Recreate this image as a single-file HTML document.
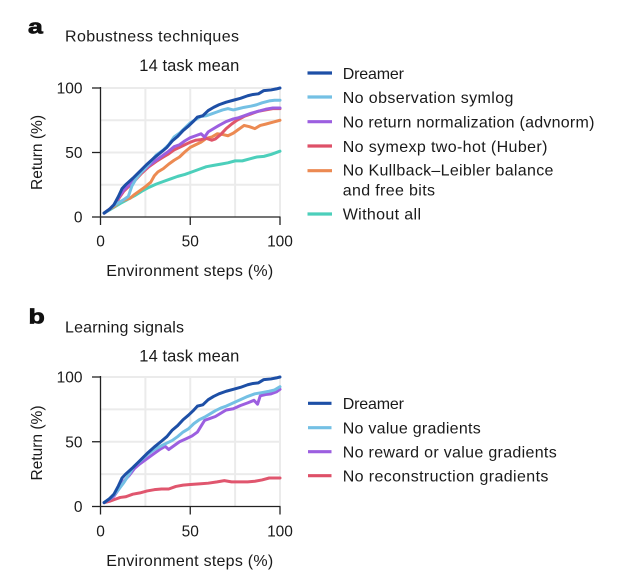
<!DOCTYPE html>
<html><head><meta charset="utf-8"><style>
html,body{margin:0;padding:0;background:#fff;}
svg{display:block;}
text{font-family:"Liberation Sans",Arial,sans-serif;fill:#1a1a1a;}
.g{stroke:#ebebeb;stroke-width:2;fill:none;}
.ax{stroke:#222;stroke-width:1.3;fill:none;}
.s{fill:none;stroke-width:3;stroke-linejoin:round;stroke-linecap:round;vector-effect:non-scaling-stroke;}
.pl{font-weight:bold;fill:#111;stroke:#111;stroke-width:0.7;}
</style></head><body>
<svg width="621" height="581" viewBox="0 0 621 581" xmlns="http://www.w3.org/2000/svg">
<rect width="621" height="581" fill="#fff"/>

<!-- ===== Panel a ===== -->
<text class="pl" transform="translate(28,33.3) scale(1.3,1)" font-size="20.5">a</text>
<text x="65" y="41.7" font-size="16" textLength="174">Robustness techniques</text>
<text x="139.3" y="71" font-size="16.5" textLength="100">14 task mean</text>

<g>
<line class="g" x1="145.4" y1="88" x2="145.4" y2="217"/>
<line class="g" x1="190.25" y1="88" x2="190.25" y2="217"/>
<line class="g" x1="235.1" y1="88" x2="235.1" y2="217"/>
<line class="g" x1="280" y1="88" x2="280" y2="217"/>
<line class="g" x1="100.5" y1="184.75" x2="280" y2="184.75"/>
<line class="g" x1="100.5" y1="152.5" x2="280" y2="152.5"/>
<line class="g" x1="100.5" y1="120.25" x2="280" y2="120.25"/>
<line class="g" x1="100.5" y1="88" x2="280" y2="88"/>
</g>

<g transform="translate(100.5,217) scale(1.795,-1.29)">
<polyline class="s" stroke="#4ccfbb" points="2,3 5,5.5 8,8 11,10.5 15,13.5 19,16.5 23,20 27,23 31,25.5 35,27.5 39,29.5 43,31.5 47,33 51,35 55,37 59,39 63,40 67,41 71,42 75,43.5 79,43.5 83,45 87,46.5 91,47 95,48.5 100,51"/>
<polyline class="s" stroke="#ec8a52" points="2,3 5,6 8,8.5 11,12 14,13.5 16.5,14.5 19,17.5 22,20.5 25,23.5 28,27 30,32 32,35 35,37.5 38,41 41,44 44,46.5 47,50.5 50,54 53,56 56,58 59,61 62,62 65,64.5 68,64 71,63 74,65 77,68 80,71 83,70 86,68.5 89,71 92,72 96,73.5 100,75"/>
<polyline class="s" stroke="#e0566a" points="2,3 5,6 7.5,9.5 10,14 13,20 16,24 19,28 23,34 27,39 31,43 35,46.5 38,49 41,52 44,54 47,56 50,58 53,59.5 56,60 59,61 62,59.5 64,60.5 67,64 70,68.5 73,72 76,75 80,78 84,80 88,82 92,83 96,84 100,84"/>
<polyline class="s" stroke="#9c5fe0" points="2,3 5,6 7.5,9.5 10,15 13,21 16,25 19,29 23,35 27,40 31,44 35,48 38,51 41,54.5 44,56 47,59 50,61.5 53,63 56,64.5 58,62 60,66 63,68.5 66,71 70,74 74,76 77,77 80,78.5 84,80.5 88,82 92,83.5 96,84.5 100,84.5"/>
<polyline class="s" stroke="#74c0e4" points="2,3 5,6 7.5,9 10,11 13,13.5 15.5,16 17.5,24 20,30 23,35 27,41 31,48 35,52 38,56 41,62 44,65 47,69 50,73 53,75.5 56,78 59,78.5 62,80 65,81.5 68,83 71,84 74,83 77,84 80,85 84,86 87,87 90,88.5 94,90 97,90.5 100,90.5"/>
<polyline class="s" stroke="#1d4fa6" points="2,3 5,6 7.5,9.5 10,16 12,22 14,25 18,30 22,35.5 26,41 30,46 34,50.5 37,54 40,59 43,62.5 46,67 49,70.5 52,74.5 54,77.5 57,78.5 60,82.5 63,85 66,87 70,89 74,90.5 78,92 82,94 85,95 88,95.5 91,98 95,98.5 98,99.3 100,100"/>
</g>

<line class="ax" x1="100.5" y1="87" x2="100.5" y2="217"/>
<line class="ax" x1="100" y1="217" x2="280.5" y2="217"/>
<line class="ax" x1="92" y1="88" x2="100.5" y2="88"/>
<line class="ax" x1="92" y1="152.5" x2="100.5" y2="152.5"/>
<line class="ax" x1="92" y1="217" x2="100.5" y2="217"/>
<line class="ax" x1="100.5" y1="217" x2="100.5" y2="225"/>
<line class="ax" x1="190.25" y1="217" x2="190.25" y2="225"/>
<line class="ax" x1="280" y1="217" x2="280" y2="225"/>

<g font-size="15.5" text-anchor="end">
<text x="82.5" y="93.5">100</text>
<text x="82.5" y="158">50</text>
<text x="82.5" y="222.5">0</text>
</g>
<g font-size="15.5" text-anchor="middle">
<text x="100.5" y="246.5">0</text>
<text x="190.25" y="246.5">50</text>
<text x="280" y="246.5">100</text>
</g>
<text x="189.7" y="276" font-size="16" text-anchor="middle" textLength="167">Environment steps (%)</text>
<text transform="translate(42,152.5) rotate(-90)" font-size="15.5" text-anchor="middle" textLength="75">Return (%)</text>

<!-- legend a -->
<g stroke-width="3.2" stroke-linecap="butt">
<line x1="307.5" y1="73" x2="332" y2="73" stroke="#1d4fa6"/>
<line x1="307.5" y1="97" x2="332" y2="97" stroke="#74c0e4"/>
<line x1="307.5" y1="121.7" x2="332" y2="121.7" stroke="#9c5fe0"/>
<line x1="307.5" y1="146" x2="332" y2="146" stroke="#de5068"/>
<line x1="307.5" y1="170.7" x2="332" y2="170.7" stroke="#ec8a52"/>
<line x1="307.5" y1="214" x2="332" y2="214" stroke="#4ccfbb"/>
</g>
<g font-size="16">
<text x="342.7" y="79" textLength="61.3">Dreamer</text>
<text x="342.7" y="103.2" textLength="170.7">No observation symlog</text>
<text x="342.7" y="127.7" textLength="251.7">No return normalization (advnorm)</text>
<text x="342.7" y="152" textLength="204.7">No symexp two-hot (Huber)</text>
<text x="342.7" y="175.7" textLength="210.7">No Kullback–Leibler balance</text>
<text x="342.7" y="195.5" textLength="92.3">and free bits</text>
<text x="342.7" y="219.5" textLength="78.3">Without all</text>
</g>

<!-- ===== Panel b ===== -->
<text class="pl" transform="translate(28.5,323.3) scale(1.3,1)" font-size="20.5">b</text>
<text x="65" y="332.7" font-size="16" textLength="119">Learning signals</text>
<text x="139.3" y="361.5" font-size="16.5" textLength="100">14 task mean</text>

<g>
<line class="g" x1="145.4" y1="377" x2="145.4" y2="506.5"/>
<line class="g" x1="190.25" y1="377" x2="190.25" y2="506.5"/>
<line class="g" x1="235.1" y1="377" x2="235.1" y2="506.5"/>
<line class="g" x1="280" y1="377" x2="280" y2="506.5"/>
<line class="g" x1="100.5" y1="474.1" x2="280" y2="474.1"/>
<line class="g" x1="100.5" y1="441.75" x2="280" y2="441.75"/>
<line class="g" x1="100.5" y1="409.4" x2="280" y2="409.4"/>
<line class="g" x1="100.5" y1="377" x2="280" y2="377"/>
</g>

<g transform="translate(100.5,506.5) scale(1.795,-1.295)">
<polyline class="s" stroke="#e0566e" points="2,3 5,4 8,5.5 11,7 14,7.5 18,9.5 22,10.5 26,12 30,13 34,13.5 38,13.5 42,15.5 46,16.5 50,17 55,17.5 60,18 65,19 69,20 73,19 78,19 82,19 86,19.5 90,20.5 94,22 100,22"/>
<polyline class="s" stroke="#9c5fe0" points="2,3 5,5.5 7.5,8 10,13 13,19.5 16,24 19,29.5 22,33 25,36 29,40 33,44 36,46.5 38,44 41,47 44,50 48,52.5 51,54.5 54,57.5 56,62 58,66.5 61,68 64,69.5 67,72 70,74.5 74,75.5 78,78 82,80 85.5,82 87.5,79 89,85.5 92,86.5 95,87 98,88.5 100,90.5"/>
<polyline class="s" stroke="#74c0e4" points="2,3 5,6 7.5,9 10,13 13,18.5 16,25 18.6,31 22,35 26,40 30,44 34,47 37,49 40,51 43,54 46,57.5 49,60 52,64 55,67 58,69 61,71.5 64,74 67,76 70,77.5 74,80 78,82.5 82,85 86,87 90,88 94,89 97,90 100,92.5"/>
<polyline class="s" stroke="#1d4fa6" points="2,3 5,6 7.5,9.5 10,16 12,22 14,25 18,30 22,35.5 26,41 30,46 34,50.5 37,54 40,59 43,62.5 46,67 49,70.5 52,74.5 54,77.5 57,78.5 60,82.5 63,85 66,87 70,89 74,90.5 78,92 82,94 85,95 88,95.5 91,98 95,98.5 98,99.3 100,100"/>
</g>

<line class="ax" x1="100.5" y1="376" x2="100.5" y2="506.5"/>
<line class="ax" x1="100" y1="506.5" x2="280.5" y2="506.5"/>
<line class="ax" x1="92" y1="377" x2="100.5" y2="377"/>
<line class="ax" x1="92" y1="441.75" x2="100.5" y2="441.75"/>
<line class="ax" x1="92" y1="506.5" x2="100.5" y2="506.5"/>
<line class="ax" x1="100.5" y1="506.5" x2="100.5" y2="514.5"/>
<line class="ax" x1="190.25" y1="506.5" x2="190.25" y2="514.5"/>
<line class="ax" x1="280" y1="506.5" x2="280" y2="514.5"/>

<g font-size="15.5" text-anchor="end">
<text x="82.5" y="382.5">100</text>
<text x="82.5" y="447.25">50</text>
<text x="82.5" y="512">0</text>
</g>
<g font-size="15.5" text-anchor="middle">
<text x="100.5" y="536.5">0</text>
<text x="190.25" y="536.5">50</text>
<text x="280" y="536.5">100</text>
</g>
<text x="189.7" y="566" font-size="16" text-anchor="middle" textLength="167">Environment steps (%)</text>
<text transform="translate(42,443) rotate(-90)" font-size="15.5" text-anchor="middle" textLength="75">Return (%)</text>

<!-- legend b -->
<g stroke-width="3.2" stroke-linecap="butt">
<line x1="308" y1="403.3" x2="331.5" y2="403.3" stroke="#1d4fa6"/>
<line x1="308" y1="427.7" x2="331.5" y2="427.7" stroke="#74c0e4"/>
<line x1="308" y1="451.7" x2="331.5" y2="451.7" stroke="#9c5fe0"/>
<line x1="308" y1="475.7" x2="331.5" y2="475.7" stroke="#de5068"/>
</g>
<g font-size="16">
<text x="342.7" y="409" textLength="61.3">Dreamer</text>
<text x="342.7" y="433.3" textLength="138">No value gradients</text>
<text x="342.7" y="457.3" textLength="214">No reward or value gradients</text>
<text x="342.7" y="481.3" textLength="205.7">No reconstruction gradients</text>
</g>
</svg>
</body></html>
